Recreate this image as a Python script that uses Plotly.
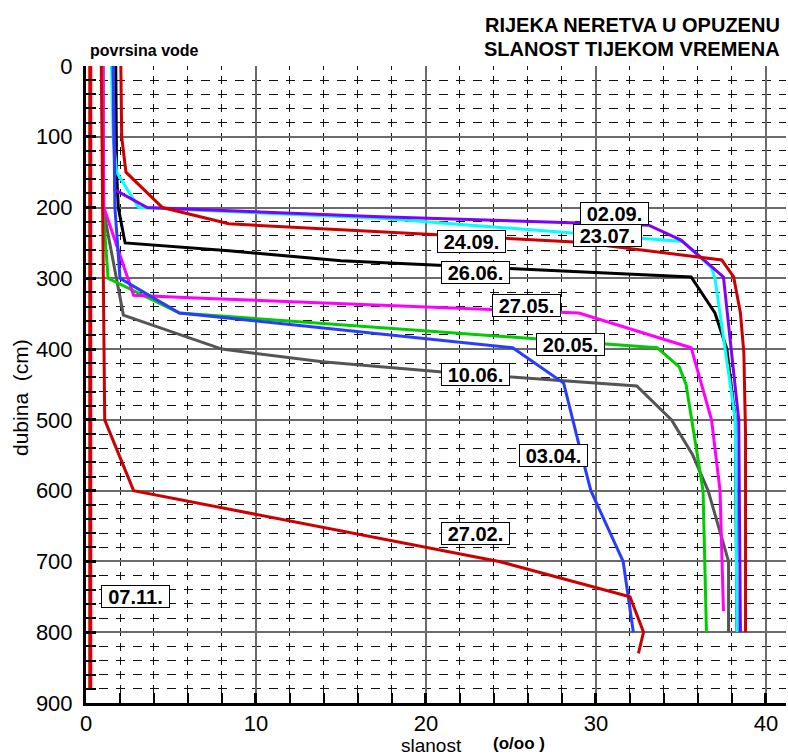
import plotly.graph_objects as go

# Salinity profiles (o/oo) against depth (cm) for each sampling date
depth_0711 = [0, 880]
sal_0711 = [0.25, 0.25]

depth_2702 = [0, 500, 600, 700, 750, 800, 830]
sal_2702 = [0.9, 1.1, 2.8, 24.3, 32.0, 32.8, 32.5]

depth_0304 = [0, 200, 300, 349, 398, 448, 535, 600, 700, 800]
sal_0304 = [1.6, 1.7, 2.0, 5.5, 25.1, 28.1, 29.0, 29.7, 31.6, 32.2]

depth_2005 = [0, 200, 300, 349, 398, 425, 450, 600, 800]
sal_2005 = [1.0, 1.0, 1.3, 5.5, 33.6, 34.9, 35.3, 36.3, 36.5]

depth_2705 = [0, 200, 324, 328, 349, 398, 500, 600, 770]
sal_2705 = [1.0, 1.05, 2.8, 6.8, 29.0, 35.6, 36.8, 37.3, 37.5]

depth_1006 = [0, 200, 352, 400, 418, 432, 452, 500, 550, 600, 700, 800]
sal_1006 = [1.0, 1.0, 2.2, 8.0, 13.9, 20.8, 32.4, 34.45, 35.7, 36.6, 37.8, 37.8]

depth_2606 = [0, 150, 200, 250, 261, 275, 286, 298, 349, 400, 500, 800]
sal_2606 = [1.75, 1.8, 1.9, 2.3, 8.4, 15.0, 24.9, 35.6, 37.0, 37.7, 38.2, 38.3]

depth_2307 = [0, 100, 150, 200, 215, 248, 285, 300, 500, 800]
sal_2307 = [1.5, 1.6, 1.8, 3.1, 17.3, 35.1, 36.8, 37.0, 38.2, 38.3]

depth_0209 = [0, 175, 200, 213, 225, 246, 298, 500, 800]
sal_0209 = [1.6, 1.7, 3.6, 17.3, 33.1, 35.0, 37.5, 38.4, 38.5]

depth_2409 = [0, 100, 150, 200, 223, 249, 274, 298, 349, 405, 520, 800]
sal_2409 = [2.05, 2.1, 2.35, 4.5, 8.4, 29.0, 37.4, 38.1, 38.5, 38.7, 38.8, 38.8]

# Date labels and where they sit (salinity, depth)
label_text = ["02.09.", "23.07.", "24.09.", "26.06.", "27.05.",
              "20.05.", "10.06.", "03.04.", "27.02.", "07.11."]
label_sal = [31.1, 30.7, 22.7, 22.9, 25.9, 28.5, 22.9, 27.5, 22.9, 2.9]
label_depth = [209, 240, 248, 292, 338, 393, 436, 551, 661, 749]

x_ticks = [0, 10, 20, 30, 40]
y_ticks = [0, 100, 200, 300, 400, 500, 600, 700, 800, 900]

FONT = "Liberation Sans, Arial, sans-serif"

# drawing order: later traces lie on top
series = [
    (sal_1006, depth_1006, "#555555", 3),
    (sal_2005, depth_2005, "#00cc00", 3),
    (sal_2705, depth_2705, "#ff00ff", 3),
    (sal_2606, depth_2606, "#000000", 3),
    (sal_2307, depth_2307, "#00ffff", 3),
    (sal_0209, depth_0209, "#7f00ff", 3),
    (sal_0304, depth_0304, "#2a3cff", 3),
    (sal_2409, depth_2409, "#cc0000", 3),
    (sal_2702, depth_2702, "#cc0000", 3),
    (sal_0711, depth_0711, "#dd0000", 4),
]

fig = go.Figure()
for sx, dy, col, w in series:
    fig.add_trace(go.Scatter(x=sx, y=dy, mode="lines",
                             line=dict(color=col, width=w),
                             showlegend=False, hoverinfo="skip"))

for t, sx, dy in zip(label_text, label_sal, label_depth):
    fig.add_annotation(x=sx, y=dy, xref="x", yref="y", text="<b>" + t + "</b>",
                       showarrow=False, font=dict(family=FONT, size=20, color="black"),
                       bgcolor="white", bordercolor="black", borderwidth=1,
                       borderpad=1, width=65, height=19)

# titles and axis captions
fig.add_annotation(x=0.994, y=(703 - 25) / 637, xref="paper", yref="paper",
                   text="<b>RIJEKA NERETVA U OPUZENU</b>", showarrow=False,
                   xanchor="right", yanchor="middle",
                   font=dict(family=FONT, size=20, color="black"))
fig.add_annotation(x=0.994, y=(703 - 49) / 637, xref="paper", yref="paper",
                   text="<b>SLANOST TIJEKOM VREMENA</b>", showarrow=False,
                   xanchor="right", yanchor="middle",
                   font=dict(family=FONT, size=20, color="black"))
fig.add_annotation(x=(88 - 86) / 700, y=(703 - 50) / 637, xref="paper", yref="paper",
                   text="<b>povrsina vode</b>", showarrow=False,
                   xanchor="left", yanchor="middle",
                   font=dict(family=FONT, size=16, color="black"))
fig.add_annotation(x=(431 - 86) / 700, y=(703 - 745) / 637, xref="paper", yref="paper",
                   text="slanost", showarrow=False, xanchor="center", yanchor="middle",
                   font=dict(family=FONT, size=19, color="black"))
fig.add_annotation(x=(519 - 86) / 700, y=(703 - 743) / 637, xref="paper", yref="paper",
                   text="<b>(o/oo )</b>", showarrow=False, xanchor="center", yanchor="middle",
                   font=dict(family=FONT, size=17, color="black"))
fig.add_annotation(x=(20 - 86) / 700, y=(703 - 398) / 637, xref="paper", yref="paper",
                   text="dubina  (cm)", showarrow=False, textangle=-90,
                   xanchor="center", yanchor="middle",
                   font=dict(family=FONT, size=21, color="black"))

fig.update_xaxes(range=[0, 41.18], tickvals=x_ticks, ticktext=[str(v) for v in x_ticks],
                 showgrid=True, gridcolor="#6a6a6a", gridwidth=1.5,
                 zeroline=False, showline=True, linecolor="black", linewidth=3,
                 ticks="inside", ticklen=10, tickwidth=3, tickcolor="black",
                 ticklabelstandoff=-1,
                 tickfont=dict(family=FONT, size=22, color="black"),
                 minor=dict(dtick=2, tick0=0, showgrid=True, gridcolor="#111111",
                            gridwidth=1, griddash="4px,6.16px,4px,0px",
                            ticks="inside", ticklen=10, tickwidth=1.5, tickcolor="black"),
                 layer="above traces")
fig.update_yaxes(range=[900, 0], tickvals=y_ticks, ticktext=[str(v) for v in y_ticks],
                 showgrid=True, gridcolor="#6a6a6a", gridwidth=1.5,
                 zeroline=False, showline=True, linecolor="black", linewidth=3,
                 ticks="inside", ticklen=10, tickwidth=3, tickcolor="black",
                 ticklabelstandoff=6,
                 tickfont=dict(family=FONT, size=22, color="black"),
                 minor=dict(dtick=20, tick0=0, showgrid=True, gridcolor="#111111",
                            gridwidth=1, griddash="4.5px,8px,4.5px,0px",
                            ticks="inside", ticklen=10, tickwidth=1.5, tickcolor="black"),
                 layer="above traces")

fig.update_layout(width=788, height=756,
                  margin=dict(l=86, r=2, t=66, b=53),
                  paper_bgcolor="white", plot_bgcolor="white",
                  font=dict(family=FONT, color="black"))

fig.write_html("out.html")
